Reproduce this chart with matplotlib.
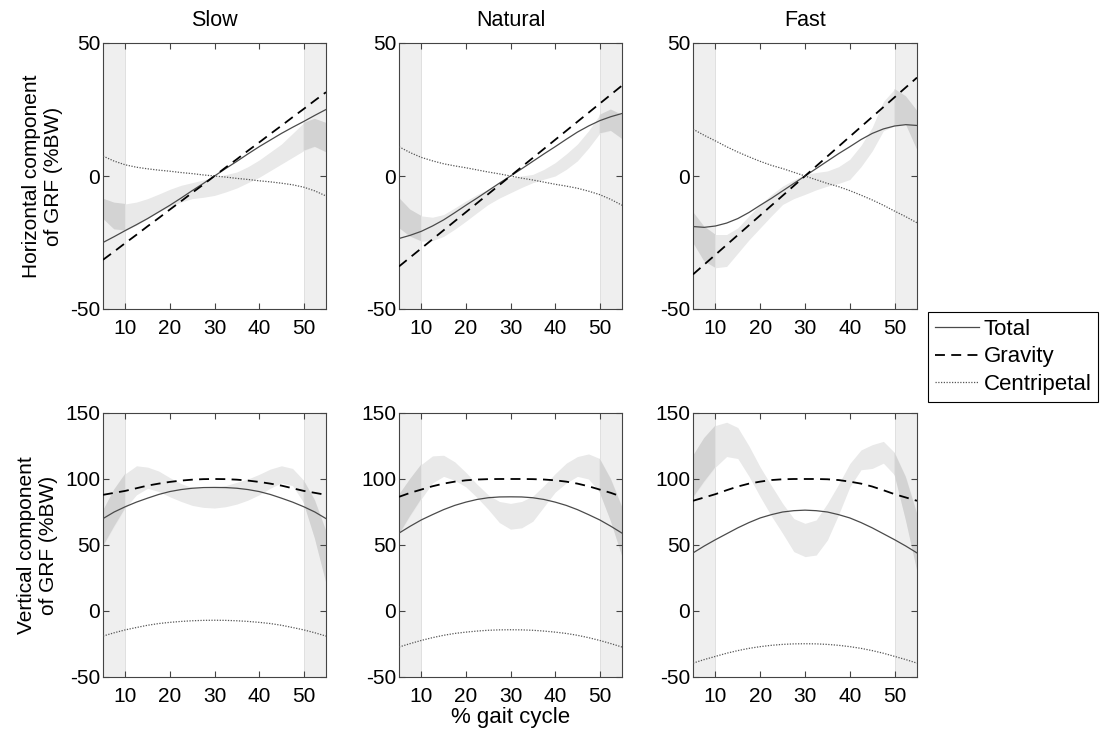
import matplotlib
matplotlib.use('Agg')
import numpy as np
import matplotlib.pyplot as plt

plt.rcParams['font.family'] = ['Liberation Sans', 'DejaVu Sans']
plt.rcParams['axes.unicode_minus'] = False

# % gait cycle sample points
gait = [5, 7.5, 10, 12.5, 15, 17.5, 20, 22.5, 25, 27.5, 30,
        32.5, 35, 37.5, 40, 42.5, 45, 47.5, 50, 52.5, 55]

speeds = ['Slow', 'Natural', 'Fast']

# horizontal component (%BW)
slow_h_total = [-25, -22.8, -20.5, -18.3, -16, -13.5, -11, -8.3, -5.5, -2.8, 0,
                2.8, 5.5, 8.3, 11, 13.5, 16, 18.3, 20.5, 22.8, 25]
slow_h_grav = [-31.5, -28.4, -25.2, -22.1, -18.9, -15.8, -12.6, -9.5, -6.3, -3.2, 0,
               3.2, 6.3, 9.5, 12.6, 15.8, 18.9, 22.1, 25.2, 28.4, 31.5]
slow_h_cent = [7.5, 5.6, 4.2, 3.3, 2.7, 2.2, 1.8, 1.3, 0.9, 0.4, 0,
               -0.4, -0.9, -1.3, -1.8, -2.2, -2.7, -3.3, -4.2, -5.6, -7.5]
slow_h_upper = [-8.5, -10, -10.5, -9.8, -8.5, -6.8, -5, -3.5, -2.5, -1.5, -0.3,
                0.5, 1.5, 3.5, 6, 9, 12, 16, 20, 21.5, 20]
slow_h_lower = [-16, -20, -20.5, -18.5, -16, -13.5, -11.5, -9.8, -8.5, -8, -7.3,
                -6, -4.5, -2.5, -0.5, 2, 4.5, 7, 9.5, 11, 9]

nat_h_total = [-23.5, -22.3, -20.8, -18.8, -16.5, -13.8, -11, -8.3, -5.5, -2.7, 0,
               2.7, 5.5, 8.3, 11, 13.8, 16.5, 18.8, 20.8, 22.3, 23.5]
nat_h_grav = [-34, -30.6, -27.2, -23.8, -20.4, -17, -13.6, -10.2, -6.8, -3.4, 0,
              3.4, 6.8, 10.2, 13.6, 17, 20.4, 23.8, 27.2, 30.6, 34]
nat_h_cent = [11, 8.8, 7, 5.7, 4.6, 3.8, 3.1, 2.3, 1.5, 0.8, 0,
              -0.8, -1.5, -2.3, -3.1, -3.8, -4.6, -5.7, -7, -8.8, -11]
nat_h_upper = [-8.2, -12.6, -15, -15.5, -14.5, -12, -9.4, -7, -5, -2.8, -0.6,
               0, 0.6, 2.5, 5, 8.3, 12, 17, 23, 25, 23]
nat_h_lower = [-19.5, -22.7, -24.5, -24.3, -22.7, -20, -17, -13.8, -10.7, -8.3, -6.3,
               -4.3, -2.5, -1.2, 0, 2.5, 5.7, 10.5, 16, 17, 14]

fast_h_total = [-19, -19.3, -18.8, -17.7, -16, -13.7, -11, -8.4, -5.6, -2.8, 0,
                2.8, 5.6, 8.4, 11, 13.7, 16, 17.7, 18.8, 19.3, 19]
fast_h_grav = [-37, -33.3, -29.6, -25.9, -22.2, -18.5, -14.8, -11.1, -7.4, -3.7, 0,
               3.7, 7.4, 11.1, 14.8, 18.5, 22.2, 25.9, 29.6, 33.3, 37]
fast_h_cent = [17.6, 15.3, 13.2, 11, 9, 7.2, 5.5, 4, 2.8, 1.4, 0,
               -1.4, -2.8, -4, -5.5, -7.2, -9, -11, -13.2, -15.3, -17.6]
fast_h_upper = [-13.5, -19, -22, -22, -19.5, -15, -10.7, -7, -3.8, -1.5, 0.6,
                1.3, 1.9, 3.5, 6.3, 11.5, 18.3, 28, 32.7, 30, 24.6]
fast_h_lower = [-25, -32, -34.5, -34, -29, -24, -19.5, -15, -10.7, -8.5, -6.9,
                -5.2, -3.8, -2.8, -1.3, 3.5, 9.4, 17, 18.9, 19.5, 10]

# vertical component (%BW)
slow_v_total = [70, 75, 79, 82.5, 85.5, 88.3, 90.5, 92, 93, 93.5, 93.6,
                93.5, 93, 92, 90.5, 88.3, 85.5, 82.5, 79, 75, 70]
slow_v_grav = [88, 89.5, 91, 93, 95, 96.5, 97.8, 98.8, 99.5, 99.9, 100,
               99.9, 99.5, 98.8, 97.8, 96.5, 95, 93, 91, 89.5, 88]
slow_v_cent = [-19, -16.5, -14.3, -12.5, -10.8, -9.5, -8.6, -7.9, -7.4, -7.1, -7,
               -7.1, -7.4, -7.9, -8.6, -9.5, -10.8, -12.5, -14.3, -16.5, -19]
slow_v_upper = [76, 92, 104, 110, 109, 106, 101, 96.5, 93.5, 93, 93.5,
                95, 97.5, 100, 103.5, 107.5, 110, 108, 99, 84, 61]
slow_v_lower = [49, 64, 78, 88, 93, 90.5, 86.5, 83, 80, 78.5, 78,
                79, 81, 84, 88, 93, 97, 95, 82, 55, 22]

nat_v_total = [59, 64.2, 69, 73, 76.8, 80, 82.5, 84.5, 85.8, 86.4, 86.5,
               86.4, 85.8, 84.5, 82.5, 80, 76.8, 73, 69, 64.2, 59]
nat_v_grav = [86.5, 89.5, 92, 94.5, 96.5, 98, 99, 99.6, 99.9, 100, 100,
              100, 99.9, 99.6, 99, 98, 96.5, 94.5, 92, 89.5, 86.5]
nat_v_cent = [-27.3, -24.7, -22.3, -20.2, -18.4, -17, -16, -15.2, -14.6, -14.3, -14.2,
              -14.3, -14.6, -15.2, -16, -17, -18.4, -20.2, -22.3, -24.7, -27.3]
nat_v_upper = [88, 100, 111, 117.5, 118, 113, 105, 96, 88, 83, 81.5,
               83, 87, 95, 104, 112, 117, 119, 115.5, 100, 79]
nat_v_lower = [58, 72, 85, 97, 102, 99, 94, 86, 77, 67, 62,
               63, 68, 79, 90, 97, 102, 100, 90, 68, 42]

fast_v_total = [44, 49.2, 54, 58.5, 63, 67, 70.5, 73, 75, 76, 76.4,
                76, 75, 73, 70.5, 67, 63, 58.5, 54, 49.2, 44]
fast_v_grav = [83.5, 86, 88.5, 91.5, 94.3, 96.5, 98, 99.2, 99.8, 100, 100,
               100, 99.8, 99.2, 98, 96.5, 94.3, 91.5, 88.5, 86, 83.5]
fast_v_cent = [-39.5, -36.8, -34.4, -32, -30, -28.3, -27, -26, -25.3, -24.9, -24.8,
               -24.9, -25.3, -26, -27, -28.3, -30, -32, -34.4, -36.8, -39.5]
fast_v_upper = [117.5, 131, 140.5, 143, 139, 125, 109, 95, 81.5, 70, 66.4,
                69, 81.5, 96, 111.7, 122, 126, 128.5, 120, 101.6, 74]
fast_v_lower = [86, 98, 109, 117, 115.5, 102, 86.5, 72, 58.8, 45, 41.2,
                42.4, 53.8, 73, 94, 107, 108, 112, 103, 69, 31]

panels = [
    [(slow_h_total, slow_h_grav, slow_h_cent, slow_h_upper, slow_h_lower),
     (nat_h_total, nat_h_grav, nat_h_cent, nat_h_upper, nat_h_lower),
     (fast_h_total, fast_h_grav, fast_h_cent, fast_h_upper, fast_h_lower)],
    [(slow_v_total, slow_v_grav, slow_v_cent, slow_v_upper, slow_v_lower),
     (nat_v_total, nat_v_grav, nat_v_cent, nat_v_upper, nat_v_lower),
     (fast_v_total, fast_v_grav, fast_v_cent, fast_v_upper, fast_v_lower)],
]

W, H = 1101, 736
fig = plt.figure(figsize=(W / 100, H / 100), dpi=100)

col_px = [(103, 223), (399, 223), (693, 224)]
row_px = [(43, 309), (413, 677)]
ylims = [(-50, 50), (-50, 150)]
yticks = [[-50, 0, 50], [-50, 0, 50, 100, 150]]
ylabels = ['Horizontal component\nof GRF (%BW)', 'Vertical component\nof GRF (%BW)']

x = np.array(gait)
ends = (x <= 10) | (x >= 50)
fs = 15

for r in range(2):
    for c in range(3):
        left, width = col_px[c]
        top, bot = row_px[r]
        ax = fig.add_axes([left / W, 1 - bot / H, width / W, (bot - top) / H])
        total, grav, cent, up, lo = panels[r][c]

        # stance phase boundaries
        ax.axvspan(5, 10, facecolor='#efefef', edgecolor='#dcdcdc', lw=0.6, zorder=0)
        ax.axvspan(50, 55, facecolor='#efefef', edgecolor='#dcdcdc', lw=0.6, zorder=0)

        # experimental band
        ax.fill_between(x, lo, up, color='#e9e9e9', lw=0, zorder=1)
        ax.fill_between(x, lo, up, where=ends, color='#d3d3d3', lw=0, zorder=1)

        ax.plot(x, total, color='#4a4a4a', lw=0.9, label='Total', zorder=3)
        ax.plot(x, grav, color='k', lw=1.3, dashes=(5.5, 3.5), label='Gravity', zorder=3)
        ax.plot(x, cent, color='#555555', lw=0.9, ls=(0, (1, 1.2)), label='Centripetal', zorder=3)

        ax.set_xlim(5, 55)
        ax.set_ylim(*ylims[r])
        ax.set_xticks([10, 20, 30, 40, 50])
        ax.set_yticks(yticks[r])
        ax.tick_params(direction='in', top=True, right=True, length=4,
                       color='#444444', labelsize=fs)
        ax.tick_params(axis='x', pad=7)
        ax.tick_params(axis='y', pad=2)
        for s in ax.spines.values():
            s.set_color('#444444')
            s.set_linewidth(0.8)

        if r == 0:
            ax.set_title(speeds[c], fontsize=15.5, pad=12)
        if c == 0:
            ax.set_ylabel(ylabels[r], fontsize=fs, labelpad=5)
        if r == 1 and c == 1:
            ax.set_xlabel('% gait cycle', fontsize=16, labelpad=1)
        if r == 0 and c == 0:
            handles, labels = ax.get_legend_handles_labels()

leg = fig.legend(handles, labels, loc='upper left',
                 bbox_to_anchor=(928 / W, 1 - 312 / H), fontsize=16,
                 fancybox=False, edgecolor='k', framealpha=1,
                 handlelength=2.0, handletextpad=0.2, borderpad=0.3,
                 labelspacing=0.3, borderaxespad=0)
leg.get_frame().set_linewidth(0.8)

fig.savefig('out.png', dpi=100)
